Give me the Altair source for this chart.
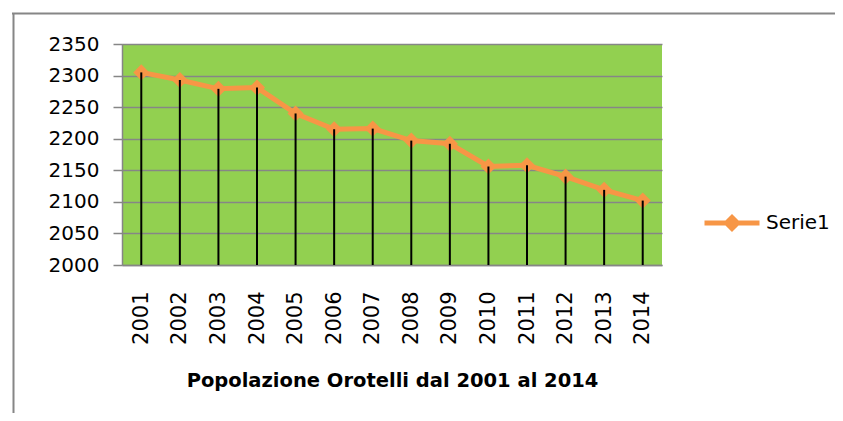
import altair as alt
import pandas as pd

years = ["2001", "2002", "2003", "2004", "2005", "2006", "2007",
         "2008", "2009", "2010", "2011", "2012", "2013", "2014"]
population = [2305, 2293, 2279, 2281, 2240, 2215, 2216,
              2197, 2192, 2156, 2158, 2140, 2119, 2102]
series_name = "Serie1"
y_ticks = [2000, 2050, 2100, 2150, 2200, 2250, 2300, 2350]
title_text = "Popolazione Orotelli dal 2001 al 2014"

df = pd.DataFrame({"year": years, "population": population,
                   "series": [series_name] * len(years)})

ORANGE = "#F79646"
GREEN = "#92D050"
GRAY = "#868686"
FONT = "DejaVu Sans"

x_axis = alt.Axis(title=title_text, labelAngle=270, labelFontSize=21,
                  labelPadding=26, ticks=False, domainColor=GRAY,
                  domainWidth=1.5, labelColor="#000000", labelFont=FONT,
                  titleFont=FONT, titleFontSize=19.5, titleFontWeight="bold",
                  titleColor="#000000", titlePadding=27, grid=False,
                  labelOverlap=False)
y_axis = alt.Axis(title=None, values=y_ticks, format="d", labelOverlap=False,
                  labelFontSize=20, labelFont=FONT, labelColor="#000000",
                  tickSize=9, tickColor=GRAY, tickWidth=1.5,
                  labelPadding=14, domainColor=GRAY, domainWidth=1.5,
                  gridColor=GRAY, gridWidth=1.5, grid=True)

x_enc = alt.X("year:O", scale=alt.Scale(type="point", padding=0.5), axis=x_axis)
y_enc = alt.Y("population:Q",
              scale=alt.Scale(domain=[2000, 2350], nice=False, zero=False),
              axis=y_axis)

frame_top = alt.Chart(alt.Data(values=[{}])).mark_rule(
    color=GRAY, strokeWidth=2, clip=False
).encode(x=alt.value(-110), x2=alt.value(760), y=alt.value(-30.5))

frame_left = alt.Chart(alt.Data(values=[{}])).mark_rule(
    color=GRAY, strokeWidth=2, clip=False
).encode(x=alt.value(-108.5), y=alt.value(-31), y2=alt.value(400))

line = alt.Chart(df).mark_line(
    strokeWidth=5,
    point=alt.OverlayMarkDef(shape="diamond", size=260, filled=True, opacity=1)
).encode(
    x=x_enc, y=y_enc,
    color=alt.Color("series:N", scale=alt.Scale(domain=[series_name], range=[ORANGE]),
                    legend=alt.Legend(
                        title=None, orient="none", legendX=580, legendY=149,
                        symbolType="M-1,0L1,0M0,-0.2L0.2,0L0,0.2L-0.2,0Z",
                        symbolSize=3025, symbolStrokeWidth=5,
                        symbolStrokeColor=ORANGE, symbolFillColor=ORANGE,
                        symbolOpacity=1,
                        labelFontSize=20, labelFont=FONT, labelColor="#000000",
                        labelOffset=4, padding=0))
)

drops = alt.Chart(df).mark_rule(color="#000000", strokeWidth=2).encode(
    x=x_enc, y=y_enc, y2=alt.datum(2000)
)

chart = alt.layer(frame_top, frame_left, line, drops).properties(
    width=540, height=221,
    autosize=alt.AutoSizeParams(type="none"),
    padding={"left": 114, "top": 36, "right": 173, "bottom": 148},
).configure(background="#ffffff").configure_view(fill=GREEN, strokeWidth=0)

chart.save("out.html", embed_options={"renderer": "svg", "actions": False})
